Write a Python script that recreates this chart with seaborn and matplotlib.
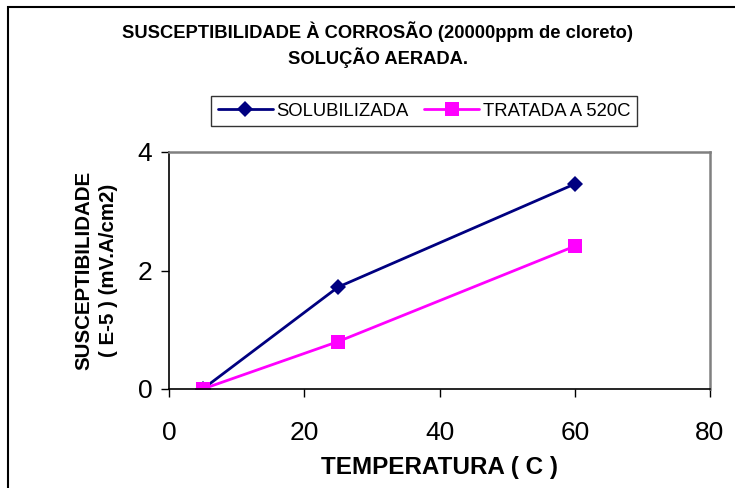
import matplotlib
matplotlib.use("Agg")
import matplotlib.pyplot as plt
import seaborn as sns
import pandas as pd
from matplotlib.patches import Rectangle
from matplotlib.lines import Line2D

temperatura = [5, 25, 60]
solubilizada = [0.0, 1.72, 3.46]
tratada = [0.0, 0.80, 2.41]
series_names = ["SOLUBILIZADA", "TRATADA A 520C"]
x_ticks = [0, 20, 40, 60, 80]
y_ticks = [0, 2, 4]

sns.set_theme(style="white")
plt.rcParams["font.family"] = ["Liberation Sans", "DejaVu Sans"]
plt.rcParams["text.color"] = "black"
plt.rcParams["axes.labelcolor"] = "black"
plt.rcParams["xtick.color"] = "black"
plt.rcParams["ytick.color"] = "black"

df = pd.DataFrame({
    "T": temperatura * 2,
    "S": solubilizada + tratada,
    "serie": [series_names[0]] * 3 + [series_names[1]] * 3,
})

fig = plt.figure(figsize=(7.35, 4.88), dpi=100)
ax = fig.add_axes([169 / 735, 1 - 389 / 488, (710 - 169) / 735, (389 - 152) / 488])

palette = {series_names[0]: "#000080", series_names[1]: "#FF00FF"}
markers = {series_names[0]: "D", series_names[1]: "s"}
sns.lineplot(data=df, x="T", y="S", hue="serie", style="serie", palette=palette,
             markers=markers, dashes=False, ax=ax, linewidth=2, markersize=9,
             markeredgewidth=0, legend=False)
for ln, ms in zip(ax.lines, [8, 10]):
    ln.set_markersize(ms)

ax.set_xlim(0, 80)
ax.set_ylim(0, 4)
ax.set_xticks(x_ticks)
ax.set_yticks(y_ticks)
ax.tick_params(axis="both", direction="out", length=6, width=1, labelsize=19,
               colors="black", bottom=True, left=True)
ax.tick_params(axis="x", pad=17)
ax.tick_params(axis="y", pad=6)
for s in ["left", "bottom"]:
    ax.spines[s].set_color("black")
    ax.spines[s].set_linewidth(1.2)
for s in ["top", "right"]:
    ax.spines[s].set_color("#808080")
    ax.spines[s].set_linewidth(1.8)
ax.grid(False)

ax.set_xlabel("TEMPERATURA ( C )", fontsize=17.5, fontweight="bold", labelpad=8,
              color="black")
ax.set_ylabel("")
fig.text(84 / 735, 1 - 270 / 488, "SUSCEPTIBILIDADE", rotation=90, fontsize=14.8,
         fontweight="bold", ha="center", va="center", color="black")
fig.text(108 / 735, 1 - 270 / 488, "( E-5 ) (mV.A/cm2)", rotation=90, fontsize=14.8,
         fontweight="bold", ha="center", va="center", color="black")

fig.text(378 / 735, 1 - 32 / 488, "SUSCEPTIBILIDADE À CORROSÃO (20000ppm de cloreto)",
         fontsize=13.2, fontweight="bold", ha="center", va="center", color="black")
fig.text(378 / 735, 1 - 58 / 488, "SOLUÇÃO AERADA.",
         fontsize=13.2, fontweight="bold", ha="center", va="center", color="black")

handles = [Line2D([], [], color="#000080", marker="D", markersize=8, lw=2, markeredgewidth=0),
           Line2D([], [], color="#FF00FF", marker="s", markersize=10, lw=2, markeredgewidth=0)]
leg = fig.legend(handles, series_names, loc="center", bbox_to_anchor=(424 / 735, 1 - 111 / 488),
                 ncol=2, frameon=True, fancybox=False, fontsize=13.3, handlelength=3,
                 columnspacing=0.8, handletextpad=0.2, borderpad=0.35, borderaxespad=0)
leg.get_frame().set_edgecolor("black")
leg.get_frame().set_linewidth(1)
for t in leg.get_texts():
    t.set_color("black")

fig.patches.append(Rectangle((8 / 735, -0.1), 1.2, 1 + 0.1 - 7 / 488, transform=fig.transFigure,
                             fill=False, edgecolor="black", linewidth=1.5))

fig.savefig("out.png", dpi=100)
